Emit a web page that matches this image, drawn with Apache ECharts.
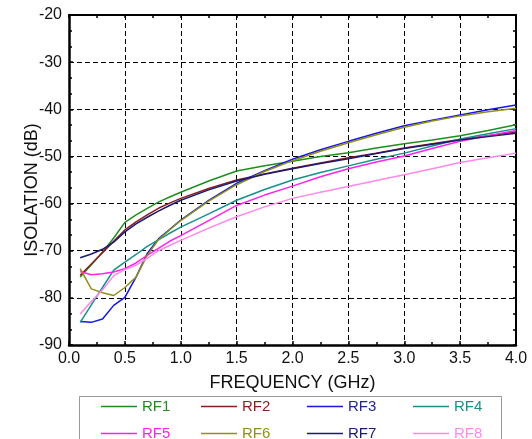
<!DOCTYPE html>
<html>
<head>
<meta charset="utf-8">
<script src="https://cdn.jsdelivr.net/npm/echarts@6/dist/echarts.min.js"></script>
<style>
html,body{margin:0;padding:0;background:#fff;}
#chart{width:532px;height:439px;}
</style>
</head>
<body>
<div id="chart"></div>
<script>
// Frequency samples (GHz)
var freq = [0.1,0.2,0.3,0.4,0.5,0.6,0.7,0.8,0.9,1.0,1.25,1.5,1.75,2.0,2.25,2.5,2.75,3.0,3.25,3.5,3.75,4.0];

// Isolation (dB) per channel
var rf1 = [-75.6,-73.0,-70.3,-67.3,-64.0,-62.4,-61.0,-59.7,-58.6,-57.6,-55.2,-53.1,-52.0,-51.0,-50.0,-49.2,-48.2,-47.3,-46.5,-45.6,-44.5,-43.3];
var rf2 = [-75.2,-72.8,-70.4,-68.0,-65.6,-63.9,-62.4,-61.0,-59.9,-58.9,-56.8,-55.0,-53.7,-52.5,-51.4,-50.3,-49.3,-48.2,-47.3,-46.4,-45.6,-44.8];
var rf3 = [-85.0,-85.2,-84.5,-81.6,-79.9,-75.6,-70.6,-67.5,-65.5,-63.5,-59.3,-55.7,-53.0,-50.6,-48.6,-46.8,-45.1,-43.5,-42.3,-41.2,-40.1,-39.1];
var rf4 = [-85.2,-81.5,-77.8,-74.1,-72.4,-70.8,-69.1,-67.7,-66.3,-65.0,-62.2,-59.3,-57.0,-55.0,-53.4,-52.0,-50.6,-49.3,-47.8,-46.3,-45.2,-44.1];
var rf5 = [-74.4,-75.1,-74.9,-74.5,-73.8,-72.6,-71.0,-69.5,-68.0,-66.8,-63.6,-60.4,-58.2,-56.3,-54.3,-52.6,-51.2,-49.9,-48.3,-46.8,-45.6,-44.5];
var rf6 = [-73.8,-78.1,-78.9,-79.5,-77.8,-75.6,-71.0,-67.7,-65.6,-63.6,-59.5,-56.0,-53.2,-50.9,-48.9,-47.1,-45.4,-43.8,-42.5,-41.4,-40.5,-39.8];
var rf7 = [-71.5,-70.7,-69.7,-68.2,-66.0,-64.3,-62.9,-61.6,-60.4,-59.3,-57.1,-55.2,-53.8,-52.6,-51.5,-50.5,-49.4,-48.3,-47.4,-46.5,-45.8,-45.1];
var rf8 = [-83.4,-80.8,-78.3,-75.3,-74.0,-73.1,-71.6,-70.0,-68.9,-67.8,-65.2,-62.8,-60.7,-58.9,-57.6,-56.4,-55.1,-53.9,-52.6,-51.3,-50.3,-49.3];

var names = ['RF1','RF2','RF3','RF4','RF5','RF6','RF7','RF8'];
var values = [rf1,rf2,rf3,rf4,rf5,rf6,rf7,rf8];
var lineColors = ['#1e8f1e','#8b1c1c','#1616e6','#17908c','#ff22ee','#8f8f1a','#1a1a72','#ff88ee'];
var textColors = ['#1e8f1e','#8b1c1c','#25258c','#17908c','#ff22ee','#8f8f1a','#1a1a72','#ff88ee'];

var font = 'Liberation Sans, Arial, sans-serif';

var series = names.map(function(n, i){
  return {
    name: n, type: 'line', symbol: 'none', smooth: false,
    data: freq.map(function(f, k){ return [f, values[i][k]]; }),
    lineStyle: {color: lineColors[i], width: 1.5},
    itemStyle: {color: lineColors[i]},
    z: 3
  };
});

var colLeft = [96, 196, 302, 408];
var rowTop = [394, 421];
var legends = names.map(function(n, i){
  return {
    data: [{name: n, icon: 'rect', itemStyle: {color: lineColors[i]}, textStyle: {color: textColors[i]}}],
    left: colLeft[i % 4], top: rowTop[Math.floor(i / 4)],
    itemWidth: 36, itemHeight: 1.5, itemGap: 0,
    textStyle: {fontFamily: font, fontSize: 15, color: textColors[i]},
    selectedMode: false
  };
});

var gridDash = {show: true, lineStyle: {color: '#000', type: [5, 3], width: 1}};

var chart = echarts.init(document.getElementById('chart'), null, {renderer: 'canvas'});
chart.setOption({
  animation: false,
  backgroundColor: '#fff',
  grid: {left: 69, right: 16, top: 15, bottom: 94, containLabel: false},
  legend: legends,
  graphic: [
    {type: 'rect', shape: {x: 79.5, y: 396.5, width: 422, height: 60}, style: {fill: 'none', stroke: '#999', lineWidth: 1}, z: 0},
    {type: 'text', x: 32, y: 190, rotation: Math.PI / 2,
     style: {text: 'ISOLATION (dB)', font: '18px ' + font, fill: '#111', align: 'center', verticalAlign: 'middle'}}
  ],
  xAxis: [{
    type: 'value', min: 0, max: 4, interval: 0.5,
    name: 'FREQUENCY (GHz)', nameLocation: 'middle', nameGap: 29,
    nameTextStyle: {fontFamily: font, fontSize: 18, color: '#111'},
    axisLine: {show: true, lineStyle: {color: '#000', width: 2.5}},
    axisTick: {show: true, inside: true, length: 4, lineStyle: {color: '#000', width: 1.5}},
    minorTick: {show: true, splitNumber: 2, length: 3, lineStyle: {color: '#000', width: 1.5}},
    axisLabel: {margin: 6, fontFamily: font, fontSize: 16, color: '#111', formatter: function(v){ return v.toFixed(1); }},
    splitLine: gridDash
  }, {
    type: 'value', position: 'top', min: 0, max: 4, interval: 0.5,
    axisLine: {show: true, onZero: false, lineStyle: {color: '#000', width: 2}},
    axisTick: {show: true, inside: true, length: 3, lineStyle: {color: '#000', width: 1.5}},
    minorTick: {show: true, splitNumber: 2, length: 3, lineStyle: {color: '#000', width: 1.5}},
    axisLabel: {show: false}, splitLine: {show: false}
  }],
  yAxis: [{
    type: 'value', min: -90, max: -20, interval: 10,
    axisLine: {show: true, onZero: false, lineStyle: {color: '#000', width: 2.5}},
    axisTick: {show: true, inside: true, length: 4, lineStyle: {color: '#000', width: 1.5}},
    minorTick: {show: true, splitNumber: 3, length: 3, lineStyle: {color: '#000', width: 1.5}},
    axisLabel: {margin: 7, fontFamily: font, fontSize: 16, color: '#111'},
    splitLine: gridDash
  }, {
    type: 'value', position: 'right', min: -90, max: -20, interval: 10,
    axisLine: {show: true, onZero: false, lineStyle: {color: '#000', width: 2}},
    axisTick: {show: true, inside: true, length: 3, lineStyle: {color: '#000', width: 1.5}},
    minorTick: {show: true, splitNumber: 3, length: 3, lineStyle: {color: '#000', width: 1.5}},
    axisLabel: {show: false}, splitLine: {show: false}
  }],
  series: series
});
</script>
</body>
</html>
